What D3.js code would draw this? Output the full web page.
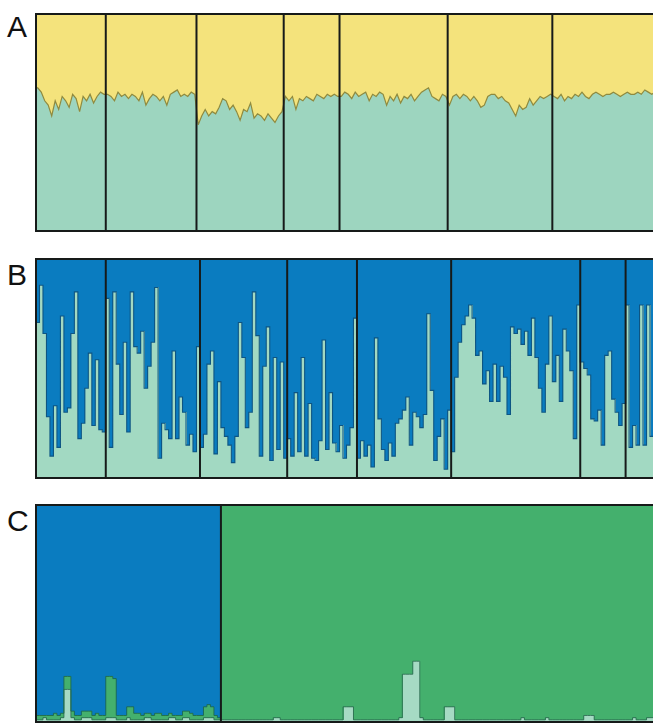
<!DOCTYPE html>
<html>
<head>
<meta charset="utf-8">
<script src="https://cdn.jsdelivr.net/npm/d3@7"></script>
<style>
  body { margin: 0; background: #fff; }
  svg { display: block; }
</style>
</head>
<body>
<svg id="chart" width="653" height="724"></svg>
<script>
// individuals per population, one list per panel
const aGroups = [20, 26, 25, 16, 31, 30, 30];
const bGroups = [20, 27, 25, 20, 27, 37, 13, 9];
const cGroups = [53, 125];

// panel A: share of the teal cluster (rest is yellow)
const aTeal = [
  0.66, 0.64, 0.60, 0.58, 0.53, 0.60, 0.56, 0.62, 0.60, 0.57, 0.63, 0.61, 0.55, 0.62, 0.60, 0.63, 0.59, 0.62, 0.64, 0.63,
  0.63, 0.62, 0.60, 0.64, 0.62, 0.63, 0.61, 0.63, 0.62, 0.60, 0.64, 0.58, 0.61, 0.63, 0.62, 0.60, 0.62, 0.58, 0.63, 0.64, 0.65, 0.62, 0.63, 0.62, 0.64, 0.63,
  0.49, 0.53, 0.56, 0.53, 0.55, 0.54, 0.57, 0.61, 0.60, 0.56, 0.58, 0.55, 0.51, 0.56, 0.55, 0.59, 0.52, 0.54, 0.53, 0.51, 0.54, 0.52, 0.50, 0.53, 0.55,
  0.62, 0.60, 0.62, 0.56, 0.61, 0.60, 0.62, 0.61, 0.60, 0.63, 0.62, 0.61, 0.63, 0.62, 0.63, 0.62,
  0.62, 0.64, 0.63, 0.61, 0.64, 0.62, 0.63, 0.64, 0.60, 0.63, 0.62, 0.64, 0.63, 0.58, 0.62, 0.60, 0.63, 0.59, 0.62, 0.61, 0.63, 0.60, 0.62, 0.64, 0.65, 0.66, 0.62, 0.61, 0.60, 0.63, 0.62,
  0.58, 0.62, 0.63, 0.61, 0.63, 0.62, 0.60, 0.62, 0.60, 0.57, 0.58, 0.62, 0.63, 0.63, 0.61, 0.62, 0.60, 0.59, 0.56, 0.53, 0.58, 0.56, 0.57, 0.61, 0.58, 0.60, 0.62, 0.61, 0.62, 0.63,
  0.62, 0.61, 0.63, 0.60, 0.62, 0.61, 0.63, 0.62, 0.64, 0.62, 0.61, 0.63, 0.64, 0.63, 0.62, 0.63, 0.63, 0.64, 0.63, 0.62, 0.63, 0.64, 0.63, 0.63, 0.64, 0.63, 0.65, 0.64, 0.63, 0.64
];

// panel B: share of the light cluster (rest is blue)
const bTeal = [
  0.71, 0.88, 0.66, 0.28, 0.10, 0.33, 0.14, 0.74, 0.30, 0.32, 0.66, 0.85, 0.18, 0.25, 0.41, 0.57, 0.24, 0.54, 0.22, 0.21,
  0.82, 0.14, 0.85, 0.52, 0.29, 0.62, 0.21, 0.85, 0.60, 0.57, 0.67, 0.41, 0.51, 0.62, 0.87, 0.09, 0.25, 0.22, 0.18, 0.58, 0.18, 0.37, 0.30, 0.15, 0.20, 0.12, 0.60,
  0.14, 0.20, 0.52, 0.58, 0.11, 0.44, 0.23, 0.19, 0.15, 0.07, 0.19, 0.71, 0.55, 0.23, 0.30, 0.85, 0.65, 0.10, 0.51, 0.69, 0.08, 0.55, 0.13, 0.53, 0.09,
  0.18, 0.10, 0.39, 0.12, 0.55, 0.10, 0.34, 0.09, 0.08, 0.17, 0.63, 0.13, 0.39, 0.16, 0.12, 0.24, 0.09, 0.15, 0.23, 0.73,
  0.09, 0.17, 0.10, 0.15, 0.05, 0.64, 0.27, 0.13, 0.08, 0.16, 0.10, 0.25, 0.27, 0.31, 0.37, 0.15, 0.30, 0.28, 0.23, 0.29, 0.75, 0.40, 0.08, 0.19, 0.27, 0.04, 0.31,
  0.12, 0.46, 0.62, 0.70, 0.74, 0.79, 0.73, 0.56, 0.58, 0.43, 0.49, 0.35, 0.52, 0.35, 0.51, 0.46, 0.29, 0.69, 0.66, 0.68, 0.61, 0.67, 0.56, 0.73, 0.55, 0.41, 0.30, 0.52, 0.74, 0.44, 0.56, 0.35, 0.68, 0.58, 0.49, 0.18, 0.79,
  0.53, 0.50, 0.47, 0.27, 0.26, 0.31, 0.15, 0.56, 0.58, 0.36, 0.30, 0.24, 0.34,
  0.79, 0.14, 0.24, 0.15, 0.79, 0.15, 0.79, 0.19, 0.75
];

// panel C: light and blue shares, green is what is left
const cLight = [
  0.01, 0.01, 0.02, 0.01, 0.01, 0.01, 0.01, 0.02, 0.15, 0.15, 0.02, 0.01, 0.01, 0.02, 0.02, 0.02, 0.01, 0.01, 0.01, 0.01,
  0.02, 0.02, 0.02, 0.01, 0.01, 0.01, 0.02, 0.01, 0.01, 0.01, 0.01, 0.02, 0.02, 0.01, 0.01, 0.01, 0.01, 0.01, 0.02, 0.02,
  0.01, 0.01, 0.02, 0.02, 0.01, 0.01, 0.01, 0.01, 0.02, 0.02, 0.02, 0.01, 0.01,
  0.01, 0.01, 0.01, 0.01, 0.01, 0.01, 0.01, 0.01, 0.01, 0.01, 0.01, 0.01, 0.01, 0.01, 0.01, 0.02, 0.02, 0.01, 0.01, 0.01,
  0.01, 0.01, 0.01, 0.01, 0.01, 0.01, 0.01, 0.01, 0.01, 0.01, 0.01, 0.01, 0.01, 0.01, 0.01, 0.07, 0.07, 0.07, 0.01, 0.01,
  0.01, 0.01, 0.01, 0.01, 0.01, 0.01, 0.01, 0.01, 0.01, 0.01, 0.01, 0.02, 0.22, 0.22, 0.22, 0.28, 0.28, 0.02, 0.01, 0.01,
  0.01, 0.01, 0.01, 0.01, 0.07, 0.07, 0.07, 0.01, 0.01, 0.01, 0.01, 0.01, 0.01, 0.01, 0.01, 0.01, 0.01, 0.01, 0.01, 0.01,
  0.01, 0.01, 0.01, 0.01, 0.01, 0.01, 0.02, 0.01, 0.01, 0.01, 0.01, 0.01, 0.01, 0.02, 0.01, 0.01, 0.01, 0.01, 0.01, 0.01,
  0.01, 0.01, 0.01, 0.01, 0.03, 0.03, 0.03, 0.01, 0.01, 0.01, 0.01, 0.01, 0.01, 0.01, 0.01, 0.01, 0.01, 0.01, 0.02, 0.01,
  0.01, 0.01, 0.02, 0.02, 0.01
];
const cBlue = [
  0.97, 0.97, 0.97, 0.97, 0.97, 0.96, 0.97, 0.96, 0.79, 0.79, 0.95, 0.97, 0.97, 0.95, 0.95, 0.95, 0.97, 0.96, 0.97, 0.97,
  0.79, 0.79, 0.80, 0.97, 0.97, 0.97, 0.93, 0.93, 0.96, 0.96, 0.97, 0.96, 0.96, 0.97, 0.96, 0.96, 0.97, 0.97, 0.96, 0.97,
  0.97, 0.97, 0.95, 0.95, 0.96, 0.97, 0.97, 0.97, 0.93, 0.92, 0.93, 0.97, 0.98,
  0, 0, 0, 0, 0, 0, 0, 0, 0, 0, 0, 0, 0, 0, 0, 0, 0, 0, 0, 0,
  0, 0, 0, 0, 0, 0, 0, 0, 0, 0, 0, 0, 0, 0, 0, 0, 0, 0, 0, 0,
  0, 0, 0, 0, 0, 0, 0, 0, 0, 0, 0, 0, 0, 0, 0, 0, 0, 0, 0, 0,
  0, 0, 0, 0, 0, 0, 0, 0, 0, 0, 0, 0, 0, 0, 0, 0, 0, 0, 0, 0,
  0, 0, 0, 0, 0, 0, 0, 0, 0, 0, 0, 0, 0, 0, 0, 0, 0, 0, 0, 0,
  0, 0, 0, 0, 0, 0, 0, 0, 0, 0, 0, 0, 0, 0, 0, 0, 0, 0, 0, 0,
  0, 0, 0, 0, 0
];

const nInd = aTeal.length;
const left = 36, right = 657;
const frameColor = '#161a19';

const svg = d3.select('#chart');
const x = d3.scaleBand().domain(d3.range(nInd)).range([left, right]);
const bw = x.bandwidth();

// step outline along the top of a layer
const stepLine = (vals, y) => {
  let pts = vals.map((v, i) => [x(i), y(v)]);
  pts.push([right, y(vals[vals.length - 1])]);
  return d3.line().curve(d3.curveStepAfter)(pts);
};

const drawFrame = (g, y, groups) => {
  let cum = d3.cumsum(groups);
  g.selectAll('line.div')
    .data(Array.from(cum).slice(0, -1))
    .join('line')
    .attr('class', 'div')
    .attr('x1', d => x(d)).attr('x2', d => x(d))
    .attr('y1', y.range()[0]).attr('y2', y.range()[1])
    .attr('stroke', frameColor).attr('stroke-width', 2);
  g.append('rect')
    .attr('x', left).attr('y', y.range()[1])
    .attr('width', right - left).attr('height', y.range()[0] - y.range()[1])
    .attr('fill', 'none').attr('stroke', frameColor).attr('stroke-width', 2);
};

const label = (txt, yb) => svg.append('text')
  .attr('x', 7).attr('y', yb)
  .attr('font-family', 'Liberation Sans, Arial, sans-serif')
  .attr('font-size', 30).attr('fill', '#111')
  .text(txt);

// ---- panel A
const yA = d3.scaleLinear().domain([0, 1]).range([231, 14]);
const gA = svg.append('g');
gA.append('rect').attr('x', left).attr('y', yA(1))
  .attr('width', right - left).attr('height', yA(0) - yA(1)).attr('fill', '#f4e37c');
let aPts = aTeal.map((v, i) => [x(i) + bw / 2, yA(v)]);
aPts.unshift([left, yA(aTeal[0])]);
aPts.push([right, yA(aTeal[nInd - 1])]);
gA.append('path')
  .attr('d', d3.area().y0(yA(0))(aPts))
  .attr('fill', '#9dd5bf');
gA.append('path')
  .attr('d', d3.line()(aPts))
  .attr('fill', 'none').attr('stroke', '#8f8a3f').attr('stroke-width', 1.2);
drawFrame(gA, yA, aGroups);
label('A', 37);

// ---- panel B
const yB = d3.scaleLinear().domain([0, 1]).range([478, 259]);
const gB = svg.append('g');
gB.append('rect').attr('x', left).attr('y', yB(1))
  .attr('width', right - left).attr('height', yB(0) - yB(1)).attr('fill', '#0a7cc0');
gB.append('g')
  .attr('shape-rendering', 'crispEdges')
  .selectAll('rect')
  .data(bTeal)
  .join('rect')
  .attr('x', (d, i) => x(i)).attr('width', bw + 0.5)
  .attr('y', d => yB(d)).attr('height', d => yB(0) - yB(d))
  .attr('fill', '#a2d9c2');
gB.append('path')
  .attr('d', stepLine(bTeal, yB))
  .attr('fill', 'none').attr('stroke', '#0d5583').attr('stroke-width', 1.1);
drawFrame(gB, yB, bGroups);
label('B', 285);

// ---- panel C
const yC = d3.scaleLinear().domain([0, 1]).range([722, 505]);
const gC = svg.append('g');
const cRows = cLight.map((l, i) => ({ light: l, green: 1 - l - cBlue[i], blue: cBlue[i] }));
const cStack = d3.stack().keys(['light', 'green', 'blue'])(cRows);
const cColor = { light: '#a6dac4', green: '#44b06d', blue: '#0a7cc0' };
gC.selectAll('g.layer')
  .data(cStack)
  .join('g')
  .attr('class', 'layer')
  .attr('shape-rendering', 'crispEdges')
  .attr('fill', d => cColor[d.key])
  .selectAll('rect')
  .data(d => d)
  .join('rect')
  .attr('x', (d, i) => x(i)).attr('width', bw + 0.5)
  .attr('y', d => yC(d[1])).attr('height', d => yC(d[0]) - yC(d[1]));
gC.append('path')
  .attr('d', stepLine(cStack[0].map(d => d[1]), yC))
  .attr('fill', 'none').attr('stroke', '#2c6e52').attr('stroke-width', 0.9);
gC.append('path')
  .attr('d', stepLine(cStack[1].map(d => d[1]), yC))
  .attr('fill', 'none').attr('stroke', '#1e6a4c').attr('stroke-width', 0.9);
drawFrame(gC, yC, cGroups);
label('C', 531);
</script>
</body>
</html>
